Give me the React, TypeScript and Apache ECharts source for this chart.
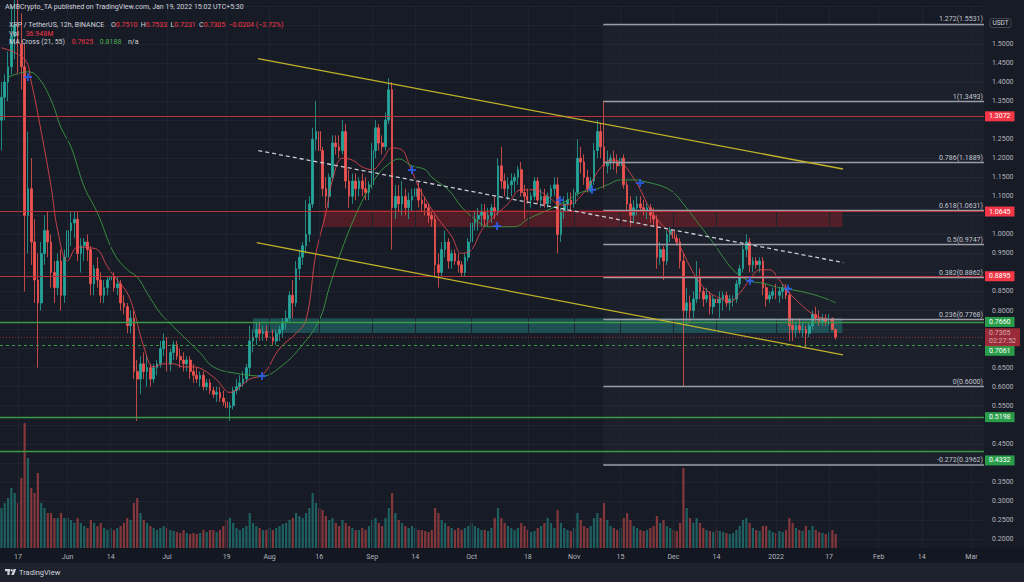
import React, { useEffect, useRef } from "react";
import * as echarts from "echarts";

const FONT = "Roboto, 'Liberation Sans', sans-serif";

// days counted from 2021-05-17 (= 0); first candle is 2021-05-12
const FIRST_DAY = -5;
const FIRST_OPEN = 1.3;
const closes = [
  1.36, 1.40, 1.44, 1.52, 1.55, 1.50, 1.44, 1.05, 1.12, 0.98,
  0.88, 0.82, 0.95, 1.01, 0.98, 0.90, 0.86, 0.93, 0.84, 0.94,
  1.01, 1.03, 1.04, 0.95, 0.97, 0.98, 0.96, 0.87, 0.91, 0.88,
  0.84, 0.86, 0.88, 0.89, 0.86, 0.87, 0.82, 0.81, 0.76, 0.78,
  0.64, 0.62, 0.66, 0.64, 0.65, 0.62, 0.65, 0.66, 0.70, 0.72,
  0.66, 0.69, 0.71, 0.68, 0.67, 0.66, 0.67, 0.64, 0.63, 0.62,
  0.63, 0.60, 0.61, 0.59, 0.58, 0.585, 0.57, 0.56, 0.545, 0.55,
  0.59, 0.60, 0.61, 0.62, 0.65, 0.72, 0.73, 0.75, 0.74, 0.745,
  0.73, 0.73, 0.72, 0.74, 0.75, 0.77, 0.78, 0.84, 0.82, 0.91,
  0.94, 0.97, 1.00, 1.08, 1.25, 1.27, 1.22, 1.12, 1.10, 1.15,
  1.24, 1.23, 1.22, 1.27, 1.14, 1.10, 1.14, 1.12, 1.14, 1.12,
  1.11, 1.13, 1.22, 1.28, 1.24, 1.23, 1.30, 1.38, 1.07, 1.10,
  1.08, 1.10, 1.07, 1.09, 1.10, 1.12, 1.09, 1.08, 1.07, 1.05,
  1.04, 0.92, 0.90, 0.96, 0.98, 0.93, 0.95, 0.93, 0.92, 0.90,
  0.94, 0.98, 1.03, 1.04, 1.05, 1.06, 1.04, 1.05, 1.07, 1.06,
  1.18, 1.14, 1.12, 1.13, 1.14, 1.15, 1.17, 1.11, 1.10, 1.09,
  1.10, 1.14, 1.09, 1.10, 1.08, 1.10, 1.12, 1.13, 1.00, 1.06,
  1.08, 1.09, 1.08, 1.11, 1.20, 1.19, 1.15, 1.12, 1.14, 1.22,
  1.27, 1.23, 1.18, 1.19, 1.20, 1.19, 1.18, 1.20, 1.13, 1.08,
  1.05, 1.07, 1.08, 1.07, 1.06, 1.07, 1.05, 1.04, 0.94, 0.96,
  0.93, 1.00, 1.01, 0.99, 0.98, 0.93, 0.80, 0.82, 0.80, 0.83,
  0.89, 0.85, 0.83, 0.84, 0.81, 0.83, 0.82, 0.83, 0.84, 0.82,
  0.83, 0.83, 0.87, 0.91, 0.96, 0.98, 0.92, 0.93, 0.92, 0.93,
  0.86, 0.83, 0.84, 0.85, 0.84, 0.85, 0.86, 0.84, 0.76, 0.75,
  0.76, 0.75, 0.75, 0.74, 0.76, 0.79, 0.78, 0.77, 0.78, 0.77,
  0.78, 0.75, 0.7305,
];
const highs = [
  1.40, 1.42, 1.48, 1.60, 1.62, 1.62, 1.58, 1.50, 1.27, 1.20,
  1.04, 0.95, 0.98, 1.05, 1.06, 1.00, 0.93, 0.95, 0.96, 0.96,
  1.04, 1.06, 1.06, 1.06, 0.99, 0.99, 1.00, 0.97, 0.92, 0.94,
  0.90, 0.88, 0.89, 0.90, 0.90, 0.89, 0.88, 0.84, 0.82, 0.80,
  0.80, 0.67, 0.68, 0.69, 0.68, 0.66, 0.66, 0.67, 0.72, 0.74,
  0.73, 0.70, 0.72, 0.72, 0.70, 0.69, 0.68, 0.68, 0.66, 0.65,
  0.64, 0.64, 0.62, 0.62, 0.60, 0.60, 0.60, 0.59, 0.58, 0.56,
  0.60, 0.62, 0.63, 0.64, 0.66, 0.76, 0.75, 0.77, 0.77, 0.76,
  0.76, 0.76, 0.75, 0.75, 0.76, 0.78, 0.80, 0.85, 0.88, 0.93,
  0.96, 0.98, 1.09, 1.10, 1.28, 1.35, 1.29, 1.23, 1.15, 1.16,
  1.26, 1.26, 1.26, 1.30, 1.29, 1.17, 1.16, 1.16, 1.15, 1.16,
  1.15, 1.14, 1.24, 1.30, 1.29, 1.26, 1.32, 1.41, 1.40, 1.13,
  1.13, 1.14, 1.12, 1.11, 1.12, 1.14, 1.14, 1.12, 1.10, 1.08,
  1.06, 1.05, 0.95, 0.98, 1.01, 0.99, 0.96, 0.96, 0.95, 0.93,
  0.95, 0.99, 1.05, 1.06, 1.07, 1.08, 1.08, 1.07, 1.08, 1.10,
  1.20, 1.23, 1.16, 1.15, 1.16, 1.16, 1.18, 1.19, 1.13, 1.12,
  1.11, 1.15, 1.15, 1.12, 1.12, 1.11, 1.13, 1.15, 1.15, 1.07,
  1.10, 1.11, 1.11, 1.12, 1.25, 1.23, 1.21, 1.17, 1.15, 1.24,
  1.30, 1.29, 1.35, 1.22, 1.21, 1.22, 1.21, 1.22, 1.21, 1.14,
  1.10, 1.09, 1.10, 1.10, 1.09, 1.08, 1.08, 1.07, 1.05, 0.98,
  0.97, 1.01, 1.02, 1.02, 1.00, 0.99, 0.95, 0.86, 0.84, 0.85,
  0.93, 0.91, 0.86, 0.86, 0.85, 0.84, 0.84, 0.85, 0.85, 0.85,
  0.84, 0.84, 0.88, 0.92, 0.97, 1.00, 0.99, 0.94, 0.94, 0.94,
  0.94, 0.87, 0.85, 0.86, 0.87, 0.86, 0.87, 0.87, 0.85, 0.78,
  0.77, 0.78, 0.77, 0.76, 0.77, 0.80, 0.81, 0.80, 0.79, 0.79,
  0.79, 0.78, 0.7533,
];
const lows = [
  1.22, 1.30, 1.35, 1.42, 1.46, 1.42, 1.38, 0.85, 0.95, 0.92,
  0.82, 0.65, 0.80, 0.92, 0.94, 0.86, 0.82, 0.84, 0.80, 0.82,
  0.92, 0.97, 0.99, 0.93, 0.90, 0.93, 0.93, 0.84, 0.84, 0.86,
  0.82, 0.82, 0.84, 0.85, 0.85, 0.84, 0.80, 0.79, 0.74, 0.74,
  0.62, 0.51, 0.58, 0.62, 0.60, 0.60, 0.61, 0.63, 0.65, 0.68,
  0.64, 0.64, 0.67, 0.67, 0.65, 0.64, 0.64, 0.62, 0.61, 0.61,
  0.60, 0.59, 0.59, 0.58, 0.57, 0.56, 0.56, 0.55, 0.53, 0.51,
  0.54, 0.58, 0.59, 0.60, 0.61, 0.63, 0.69, 0.71, 0.72, 0.72,
  0.72, 0.71, 0.71, 0.71, 0.72, 0.73, 0.75, 0.77, 0.78, 0.81,
  0.88, 0.92, 0.95, 0.98, 1.07, 1.22, 1.19, 1.10, 1.07, 1.07,
  1.14, 1.21, 1.20, 1.21, 1.12, 1.07, 1.08, 1.09, 1.10, 1.10,
  1.09, 1.09, 1.12, 1.20, 1.22, 1.21, 1.22, 1.29, 0.96, 1.04,
  1.06, 1.05, 1.05, 1.04, 1.06, 1.07, 1.07, 1.06, 1.05, 1.03,
  1.02, 0.89, 0.86, 0.89, 0.94, 0.91, 0.91, 0.92, 0.90, 0.89,
  0.89, 0.93, 0.96, 1.01, 1.01, 1.02, 1.02, 1.02, 1.03, 1.04,
  1.05, 1.12, 1.10, 1.09, 1.10, 1.11, 1.13, 1.10, 1.04, 1.08,
  1.07, 1.09, 1.08, 1.07, 1.07, 1.07, 1.08, 1.10, 0.95, 0.98,
  1.04, 1.06, 1.06, 1.07, 1.10, 1.16, 1.13, 1.11, 1.11, 1.13,
  1.20, 1.20, 1.12, 1.16, 1.17, 1.17, 1.16, 1.17, 1.12, 1.06,
  1.02, 1.03, 1.05, 1.06, 1.05, 1.04, 1.03, 1.02, 0.91, 0.92,
  0.88, 0.92, 0.98, 0.97, 0.97, 0.91, 0.60, 0.76, 0.77, 0.78,
  0.82, 0.83, 0.81, 0.82, 0.79, 0.79, 0.80, 0.78, 0.80, 0.81,
  0.80, 0.81, 0.82, 0.86, 0.90, 0.94, 0.90, 0.90, 0.91, 0.90,
  0.84, 0.81, 0.82, 0.83, 0.83, 0.82, 0.83, 0.83, 0.72, 0.72,
  0.73, 0.74, 0.73, 0.70, 0.73, 0.75, 0.77, 0.76, 0.76, 0.76,
  0.76, 0.75, 0.7231,
];
// volume, millions (read as bar heights)
const volumes = [
  40, 45, 50, 60, 55, 45, 70, 125, 90, 60,
  55, 75, 45, 40, 35, 35, 30, 30, 35, 30,
  30, 28, 25, 30, 25, 22, 20, 28, 25, 22,
  25, 20, 18, 20, 18, 20, 22, 25, 30, 28,
  45, 50, 35, 28, 25, 22, 20, 18, 20, 22,
  20, 18, 17, 16, 15, 18, 15, 14, 15, 14,
  15, 18, 16, 18, 18, 16, 18, 22, 28, 30,
  25, 20, 18, 20, 22, 35, 25, 22, 20, 18,
  18, 20, 18, 20, 22, 24, 25, 28, 30, 35,
  32, 30, 35, 40, 55, 45, 40, 38, 32, 28,
  30, 25, 22, 28, 25, 22, 20, 18, 18, 20,
  18, 22, 28, 30, 25, 22, 30, 40, 55, 35,
  28, 25, 22, 20, 22, 20, 18, 18, 17, 16,
  18, 40, 35, 28, 25, 22, 20, 18, 20, 18,
  20, 22, 25, 22, 20, 18, 18, 17, 20, 30,
  40, 30, 25, 22, 20, 18, 20, 25, 22, 18,
  16, 17, 20, 22, 25, 30, 25, 20, 38, 25,
  20, 18, 17, 20, 35, 28, 22, 20, 22, 30,
  35, 30, 45, 28, 22, 20, 18, 20, 30, 35,
  28, 22, 20, 18, 17, 18, 20, 22, 32, 25,
  28, 22, 20, 18, 17, 25, 80, 40, 30, 25,
  30, 25, 20, 18, 17, 16, 18, 17, 16, 15,
  14, 15, 18, 22, 28, 30, 25, 20, 18, 17,
  22, 22, 18, 16, 15, 17, 16, 18, 30, 25,
  20, 18, 17, 22, 18, 22, 18, 16, 15, 14,
  16, 18, 14,
];

const tickDays = [0, 15, 28, 45, 63, 76, 91, 107, 120, 137, 154, 168, 182, 198, 211, 229, 245, 260, 273, 288];
const tickLabels = ["17", "Jun", "14", "Jul", "19", "Aug", "16", "Sep", "14", "Oct", "18", "Nov", "15", "Dec", "14", "2022", "17", "Feb", "14", "Mar"];
// price ticks hidden behind the coloured price boxes on the scale
const coveredTicks = [1.55, 1.3, 1.05, 0.9, 0.75, 0.7, 0.5, 0.4];

const emaFastDays = [-5, 2, 4, 7, 10, 12, 15, 18, 21, 24, 27, 30, 33, 35, 38, 41, 44, 47, 50, 53, 56, 60, 64, 70, 74, 79, 84, 87, 90, 93, 95, 98, 101, 104, 107, 110, 113, 116, 118, 121, 124, 127, 131, 134, 137, 140, 143, 148, 152, 156, 160, 164, 167, 170, 173, 176, 179, 182, 185, 188, 191, 194, 197, 200, 203, 206, 209, 212, 215, 218, 221, 224, 227, 230, 233, 236, 239, 242, 245, 247];
const emaFastVals = [1.49, 1.46, 1.40, 1.27, 1.125, 1.01, 0.93, 0.967, 0.965, 0.96, 0.915, 0.88, 0.846, 0.80, 0.705, 0.652, 0.66, 0.66, 0.652, 0.652, 0.644, 0.618, 0.585, 0.62, 0.632, 0.70, 0.74, 0.775, 0.95, 1.056, 1.143, 1.20, 1.195, 1.177, 1.17, 1.195, 1.227, 1.222, 1.187, 1.125, 1.08, 1.04, 0.995, 0.95, 0.96, 1.01, 1.04, 1.08, 1.117, 1.117, 1.10, 1.077, 1.08, 1.10, 1.135, 1.175, 1.195, 1.19, 1.16, 1.117, 1.065, 1.03, 1.004, 0.967, 0.915, 0.872, 0.846, 0.833, 0.823, 0.846, 0.88, 0.907, 0.907, 0.88, 0.846, 0.82, 0.797, 0.783, 0.775, 0.765];
const emaSlowDays = [-3, 3, 6, 10, 13, 16, 20, 24, 29, 33, 36, 39, 43, 47, 51, 55, 59, 66, 74, 79, 85, 91, 94, 97, 100, 103, 106, 109, 112, 115, 119, 123, 125, 130, 134, 138, 142, 146, 150, 154, 158, 162, 166, 170, 174, 178, 182, 186, 191, 195, 198, 201, 204, 207, 210, 213, 216, 219, 222, 225, 229, 233, 237, 241, 245, 247];
const emaSlowVals = [1.413, 1.427, 1.413, 1.353, 1.28, 1.23, 1.125, 1.056, 0.95, 0.907, 0.888, 0.846, 0.793, 0.757, 0.723, 0.689, 0.652, 0.635, 0.628, 0.65, 0.70, 0.775, 0.86, 0.94, 1.01, 1.07, 1.12, 1.16, 1.185, 1.198, 1.18, 1.17, 1.15, 1.117, 1.072, 1.04, 1.02, 1.02, 1.02, 1.04, 1.056, 1.072, 1.09, 1.11, 1.117, 1.13, 1.143, 1.143, 1.135, 1.125, 1.11, 1.08, 1.046, 1.012, 0.978, 0.94, 0.907, 0.886, 0.875, 0.872, 0.862, 0.856, 0.849, 0.84, 0.828, 0.82];
const crossDays = [3, 73.7, 119, 144.7, 163.7, 173.4, 187.9, 221.1, 232.6];
const crossVals = [1.413, 0.628, 1.169, 1.022, 1.09, 1.117, 1.135, 0.878, 0.857];

const fibRatios = ["1.272", "1", "0.786", "0.618", "0.5", "0.382", "0.236", "0", "-0.272"];
const fibPrices = [1.5531, 1.3493, 1.1889, 1.0631, 0.9747, 0.8862, 0.7768, 0.6, 0.3962];
const fibStartDay = 176.8;

const redLevels = [1.3072, 1.0645, 0.8895];
const greenLevels = [0.766, 0.5198, 0.4332];
const greenDashedLevel = 0.7061;
const lastPrice = 0.7305;

const upperChannel = [[72.5, 1.4614], [249.2, 1.1717]];
const lowerChannel = [[72.1, 0.9782], [249.2, 0.6833]];
const midDashed = [[72.6, 1.22], [249.3, 0.926]];
const tealZone = [71, 249, 0.741, 0.78];
const redZone = [92.2, 249, 1.0194, 1.0645];

const X_MIN = -5.44;
const X_MAX = 291.8;

const UP = "#26a69a";
const DN = "#ef5350";

export default function App() {
  const ref = useRef<HTMLDivElement>(null);
  useEffect(() => {
    if (!ref.current) return;
    const chart = echarts.init(ref.current, undefined, { renderer: "svg" });

    const candles = closes.map((c, i) => {
      const o = i === 0 ? FIRST_OPEN : closes[i - 1];
      return [FIRST_DAY + i, o, c, lows[i], highs[i]];
    });
    const vols = volumes.map((v, i) => {
      const o = i === 0 ? FIRST_OPEN : closes[i - 1];
      const up = closes[i] >= o;
      return { value: [FIRST_DAY + i, v], itemStyle: { color: up ? "rgba(38,166,154,0.5)" : "rgba(239,83,80,0.5)" } };
    });
    const fast = emaFastDays.map((d, i) => [d, emaFastVals[i]]);
    const slow = emaSlowDays.map((d, i) => [d, emaSlowVals[i]]);
    const crosses = crossDays.map((d, i) => [d, crossVals[i]]);

    const boxLabel = (text: string, bg: string, offY = 0) => ({
      show: true,
      position: "end",
      formatter: text,
      color: "#ffffff",
      backgroundColor: bg,
      padding: [1, 4, 1, 4],
      fontSize: 7,
      lineHeight: 8,
      fontFamily: FONT,
      distance: 1,
      offset: [0, offY],
    });

    const levelData: any[] = [];
    redLevels.forEach((v) =>
      levelData.push({ yAxis: v, lineStyle: { color: "#b8323c", width: 1.2, type: "solid" }, label: boxLabel(v.toFixed(4), "#f23645") })
    );
    greenLevels.forEach((v, i) =>
      levelData.push({ yAxis: v, lineStyle: { color: "#3a9a44", width: 1.3, type: "solid", opacity: 1 }, label: boxLabel(v.toFixed(4), "#2a9d4a", i === 2 ? 9 : 0) })
    );
    levelData.push({ yAxis: greenDashedLevel, lineStyle: { color: "#3a9a44", width: 1, type: [3, 3] }, label: boxLabel(greenDashedLevel.toFixed(4), "#2a9d4a", 6) });
    levelData.push({ yAxis: lastPrice, lineStyle: { color: "#f23645", width: 1, type: [1, 2], opacity: 0.6 }, label: boxLabel(lastPrice.toFixed(4) + "\n02:27:52", "#f23645") });

    const fibData = fibPrices.map((p, i) => [
      {
        coord: [fibStartDay, p],
        name: `${fibRatios[i]}(${p.toFixed(4)})`,
        lineStyle: { color: i === 8 ? "#7b7e88" : "#9a9da6", width: i === 8 ? 2 : 1.3, type: "solid" },
      },
      { coord: [X_MAX, p] },
    ]);

    const trendLine = (pts: number[][], color: string, type: any) => [
      { coord: pts[0], lineStyle: { color, width: 1.3, type } },
      { coord: pts[1] },
    ];

    const vGrid = tickDays.map((d) => ({ xAxis: d }));

    const option: any = {
      animation: false,
      backgroundColor: "#171b26",
      textStyle: { fontFamily: FONT },
      grid: [
        { left: 0, right: 40, top: 5.9, bottom: 43, containLabel: false },
        { left: 0, right: 40, top: 318, bottom: 34, containLabel: false },
      ],
      xAxis: [
        { type: "value", gridIndex: 0, min: X_MIN, max: X_MAX, show: false },
        {
          type: "value",
          gridIndex: 1,
          min: X_MIN,
          max: X_MAX,
          axisLine: { show: false },
          axisTick: { show: false },
          splitLine: { show: false },
          axisLabel: {
            customValues: tickDays,
            formatter: (v: number) => {
              const k = tickDays.indexOf(Math.round(v));
              return k >= 0 ? tickLabels[k] : "";
            },
            color: "#b2b5be",
            fontSize: 7,
            fontFamily: FONT,
            margin: 5,
          },
        },
      ],
      yAxis: [
        {
          type: "value",
          gridIndex: 0,
          position: "right",
          min: 0.2,
          max: 1.6,
          interval: 0.05,
          axisLine: { show: true, lineStyle: { color: "#2a2e39" } },
          axisTick: { show: false },
          splitLine: { show: true, lineStyle: { color: "#1f2330", width: 1 } },
          axisLabel: {
            formatter: (v: number) => (coveredTicks.some((c) => Math.abs(c - v) < 0.001) ? "" : v.toFixed(4)),
            color: "#b2b5be",
            fontSize: 7,
            fontFamily: FONT,
            margin: 8,
            showMaxLabel: false,
          },
        },
        { type: "value", gridIndex: 1, min: 0, max: 230, show: false },
      ],
      series: [
        {
          name: "zones",
          type: "line",
          xAxisIndex: 0,
          yAxisIndex: 0,
          data: [],
          silent: true,
          z: 1,
          markArea: {
            silent: true,
            data: [
              [
                { coord: [fibStartDay, fibPrices[0]], itemStyle: { color: "rgba(255,255,255,0.025)" } },
                { coord: [X_MAX, fibPrices[8]] },
              ],
              [
                { coord: [tealZone[0], tealZone[3]], itemStyle: { color: "rgba(34,120,120,0.55)" } },
                { coord: [tealZone[1], tealZone[2]] },
              ],
              [
                { coord: [redZone[0], redZone[3]], itemStyle: { color: "rgba(118,32,40,0.6)" } },
                { coord: [redZone[1], redZone[2]] },
              ],
            ],
          },
          markLine: {
            silent: true,
            symbol: ["none", "none"],
            label: { show: false },
            lineStyle: { color: "#1f2330", width: 1, type: "solid" },
            data: vGrid,
          },
        },
        {
          name: "vgrid-vol",
          type: "line",
          xAxisIndex: 1,
          yAxisIndex: 1,
          data: [],
          silent: true,
          z: 1,
          markLine: {
            silent: true,
            symbol: ["none", "none"],
            label: { show: false },
            lineStyle: { color: "#1f2330", width: 1, type: "solid" },
            data: vGrid,
          },
        },
        {
          name: "fib",
          type: "line",
          xAxisIndex: 0,
          yAxisIndex: 0,
          data: [],
          silent: true,
          z: 2,
          markLine: {
            silent: true,
            symbol: ["none", "none"],
            lineStyle: { type: "solid" },
            label: {
              show: true,
              position: "insideEndTop",
              formatter: "{b}",
              color: "#c3c6ce",
              fontSize: 7,
              fontFamily: FONT,
              distance: [1, 1],
            },
            data: fibData,
          },
        },
        {
          name: "levels",
          type: "line",
          xAxisIndex: 0,
          yAxisIndex: 0,
          data: [],
          silent: true,
          z: 2,
          markLine: {
            silent: true,
            symbol: ["none", "none"],
            data: levelData,
          },
        },
        {
          name: "volume",
          type: "bar",
          xAxisIndex: 1,
          yAxisIndex: 1,
          barWidth: 2.2,
          data: vols,
          silent: true,
          z: 2,
        },
        {
          name: "XRP",
          type: "candlestick",
          xAxisIndex: 0,
          yAxisIndex: 0,
          dimensions: ["day", "open", "close", "lowest", "highest"],
          encode: { x: 0, y: [1, 2, 3, 4] },
          barWidth: 2.2,
          clip: false,
          data: candles,
          z: 3,
          itemStyle: { color: UP, color0: DN, borderColor: UP, borderColor0: DN, borderWidth: 0.8 },
        },
        {
          name: "EMA 21",
          type: "line",
          xAxisIndex: 0,
          yAxisIndex: 0,
          data: fast,
          smooth: 0.4,
          showSymbol: false,
          symbol: "none",
          lineStyle: { color: "#e5484f", width: 1, opacity: 0.85 },
          z: 4,
          silent: true,
        },
        {
          name: "EMA 55",
          type: "line",
          xAxisIndex: 0,
          yAxisIndex: 0,
          data: slow,
          smooth: 0.4,
          showSymbol: false,
          symbol: "none",
          lineStyle: { color: "#3c9a44", width: 1, opacity: 0.9 },
          z: 4,
          silent: true,
        },
        {
          name: "trend",
          type: "line",
          xAxisIndex: 0,
          yAxisIndex: 0,
          data: [],
          silent: true,
          z: 5,
          markLine: {
            silent: true,
            symbol: ["none", "none"],
            label: { show: false },
            data: [
              trendLine(upperChannel, "#c2b12a", "solid"),
              trendLine(lowerChannel, "#c2b12a", "solid"),
              trendLine(midDashed, "#c9ccd3", [4, 3]),
            ],
          },
        },
        {
          name: "cross",
          type: "scatter",
          xAxisIndex: 0,
          yAxisIndex: 0,
          data: crosses,
          symbol: "path://M3,0H5V3H8V5H5V8H3V5H0V3H3Z",
          symbolSize: 8,
          itemStyle: { color: "#2962ff" },
          z: 6,
          silent: true,
        },
      ],
      graphic: [
        { type: "rect", z: -1, shape: { x: 0, y: 548, width: 1024, height: 15 }, style: { fill: "#131722" } },
        { type: "rect", z: -1, shape: { x: 0, y: 563, width: 1024, height: 19 }, style: { fill: "#1e222d" } },
        {
          type: "text",
          z: 100,
          left: 5,
          top: 3,
          style: { text: "AMBCrypto_TA published on TradingView.com, Jan 19, 2022 15:02 UTC+5:30", fill: "#d1d4dc", fontSize: 7, fontFamily: FONT },
        },
        {
          type: "text",
          z: 100,
          left: 9,
          top: 19,
          style: {
            text: "{w|XRP / TetherUS, 12h, BINANCE}  {w|O}{r|0.7510} {w|H}{r|0.7533} {w|L}{r|0.7231} {w|C}{r|0.7305} {r|−0.0204 (−2.72%)}",
            rich: {
              w: { fill: "#d1d4dc", fontSize: 7, fontFamily: FONT },
              r: { fill: "#f23645", fontSize: 7, fontFamily: FONT },
            },
          },
        },
        {
          type: "text",
          z: 100,
          left: 9,
          top: 27.5,
          style: {
            text: "{w|Vol}  {r|36.948M}",
            rich: {
              w: { fill: "#d1d4dc", fontSize: 7, fontFamily: FONT },
              r: { fill: "#f23645", fontSize: 7, fontFamily: FONT },
            },
          },
        },
        {
          type: "text",
          z: 100,
          left: 9,
          top: 36,
          style: {
            text: "{w|MA Cross (21, 55)}  {r|0.7625}  {g|0.8188}  {w|n/a}",
            rich: {
              w: { fill: "#d1d4dc", fontSize: 7, fontFamily: FONT },
              r: { fill: "#f23645", fontSize: 7, fontFamily: FONT },
              g: { fill: "#4caf50", fontSize: 7, fontFamily: FONT },
            },
          },
        },
        {
          type: "rect",
          z: 100,
          shape: { x: 990, y: 18.5, width: 21, height: 9, r: 2 },
          style: { fill: "#171b26", stroke: "#434651", lineWidth: 1 },
        },
        {
          type: "text",
          z: 101,
          x: 1000.5,
          y: 23,
          style: { text: "USDT", fill: "#d1d4dc", fontSize: 6.5, fontFamily: FONT, align: "center", verticalAlign: "middle" },
        },
        { type: "rect", z: 100, shape: { x: 5, y: 569, width: 5, height: 2.2 }, style: { fill: "#d1d4dc" } },
        { type: "rect", z: 100, shape: { x: 7.4, y: 569, width: 2.2, height: 6 }, style: { fill: "#d1d4dc" } },
        { type: "circle", z: 100, shape: { cx: 11.6, cy: 570.2, r: 1.2 }, style: { fill: "#d1d4dc" } },
        { type: "polygon", z: 100, shape: { points: [[13.6, 569], [16.2, 569], [13.8, 575], [11.2, 575]] }, style: { fill: "#d1d4dc" } },
        {
          type: "text",
          z: 100,
          x: 19,
          y: 572,
          style: { text: "TradingView", fill: "#d1d4dc", fontSize: 7.5, fontFamily: FONT, verticalAlign: "middle" },
        },
      ],
    };

    chart.setOption(option);
    return () => chart.dispose();
  }, []);
  return <div ref={ref} style={{ position: "absolute", left: 0, top: 0, width: 1024, height: 582 }} />;
}
